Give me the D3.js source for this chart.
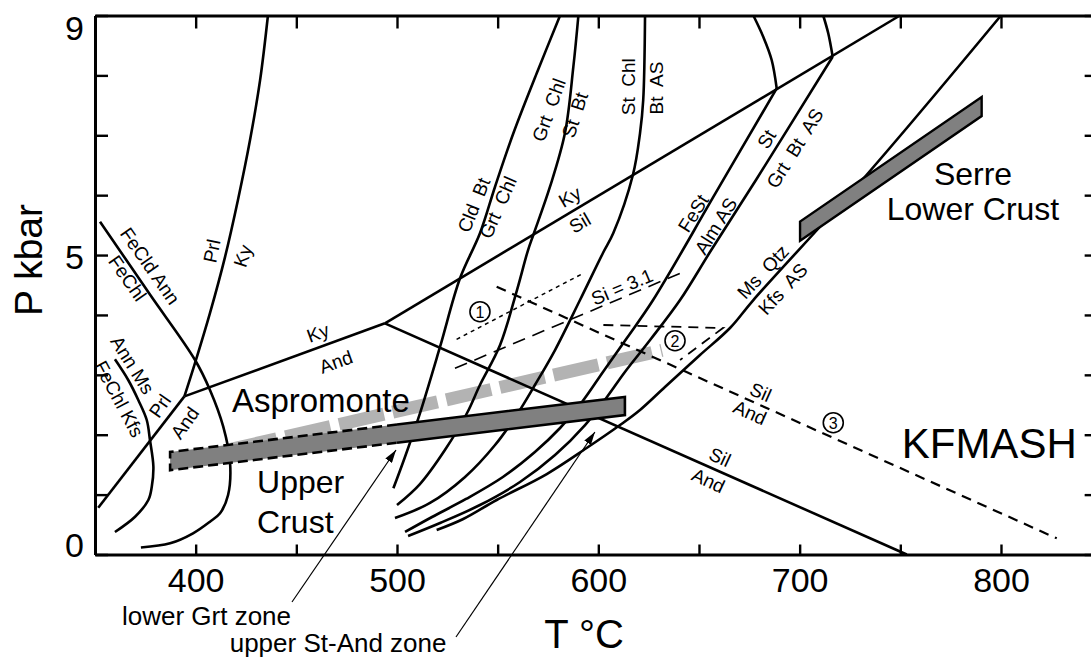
<!DOCTYPE html>
<html>
<head>
<meta charset="utf-8">
<script src="https://cdn.jsdelivr.net/npm/d3@7"></script>
<style>
  body { margin: 0; background: #fff; }
  svg { display: block; font-family: "Liberation Sans", Arial, Helvetica, sans-serif; }
  text { white-space: pre; }
</style>
</head>
<body>
<svg id="chart" width="1091" height="657"></svg>
<script>
// ---------- axes (T in °C, P in kbar) ----------
const xTicks = [400, 450, 500, 550, 600, 650, 700, 750, 800];
const xTickLabels = [400, 500, 600, 700, 800];
const yTicks = [0, 1, 2, 3, 4, 5, 6, 7, 8, 9];
const yTickLabels = [0, 5, 9];

// ---------- Al2SiO5 and pyrophyllite reactions ----------
const prlKy  = [[394.4,2.64],[399.7,3.2],[407.1,4.03],[414.6,4.97],[421,5.92],[427,6.92],[432,7.92],[435.9,9]];
const prlAnd = [[394.4,2.64],[351.6,0.78]];
const kyAnd  = [[394.4,2.64],[494,3.86]];
const kySil  = [[494,3.86],[749.8,9]];
const silAnd = [[494,3.86],[753.2,0]];

// ---------- KFMASH reactions ----------
const feCldAnn = [[352.5,5.557],[377.3,4.341],[399.7,3.248],[407.1,2.747],[413.7,2.134],[417.1,1.528],
                  [416.1,0.993],[412.1,0.688],[407.1,0.548],[398.7,0.354],[387.3,0.187],[372.8,0.117]];
const annMs = [[359.9,3.259],[366.5,2.914],[371.5,2.58],[375.7,2.246],[377.3,1.912],[379.0,1.466],
               [378.2,1.132],[376.5,0.91],[369.9,0.631],[359.9,0.376]];
const cldBt = [[581.0,9.0],[569.4,8.035],[557.8,7.033],[548.7,6.141],[541.2,5.363],[531.3,4.612],
               [521.4,3.47],[511.4,2.358],[504.0,1.633],[498.2,1.105]];
const grtChl = [[590.1,9.0],[587.6,8.145],[583.4,7.033],[576.0,6.141],[567.7,5.335],[565.1,5.084],
                [559.6,4.416],[551.2,3.498],[541.2,2.83],[534.8,2.363],[523.8,1.745],[511.4,1.177],[500.0,0.826]];
const stChl = [[623.2,9.0],[622.3,7.589],[620.7,7.033],[617.2,6.341],[607.4,5.363],[602.3,5.034],
               [590.9,4.249],[578.5,3.414],[568.5,2.83],[560.1,2.363],[548.7,1.828],[533.8,1.294],[516.4,0.86],[499.0,0.609]];
const feStUpper = [[677.0,9.0],[681.9,8.646],[686.1,8.257],[688.6,7.784]];
const feSt = [[688.6,7.784],[658.0,6.02],[627.2,4.249],[614.2,3.615],[602.3,3.047],[591.9,2.546],
              [581.0,2.112],[568.5,1.711],[552.6,1.294],[534.3,0.927],[517.4,0.626],[504.0,0.376]];
const stGrtUpper = [[711.7,9.0],[714.2,8.703],[716.4,8.312]];
const stGrt = [[716.4,8.312],[678.3,6.253],[656.1,5.084],[640.6,4.249],[625.7,3.581],[613.2,3.047],
               [604.3,2.63],[593.4,2.162],[578.5,1.661],[561.1,1.21],[541.2,0.826],[521.4,0.526],[505.5,0.309]];
const msQtz = [[800.0,9.0],[733.3,6.341],[677.0,4.249],[665.4,3.782],[650.5,3.331],[633.1,2.797],
               [620.7,2.413],[610.8,2.162],[594.2,1.778],[574.4,1.344],[549.5,0.91],[532.9,0.593],[519.7,0.409]];

// ---------- dashed boundaries and isopleths ----------
const silAndAlt  = [[549.5,4.471],[827.7,0.27]];
const si31       = [[528.8,3.109],[640.6,4.695]];
const isoDotted  = [[529.6,3.593],[592.5,4.695]];
const isoDashed  = [[602.5,3.832],[661.9,3.782],[640.6,3.248]];

// ---------- P-T fields ----------
const asproT = [387.3, 613.2], asproP = [1.56, 2.48], asproHalf = 0.152;
const serreT = [700.2, 790.4], serreP = [5.40, 7.48], serreHalf = 0.16;
const trendT = [418.0, 631.6], trendP = [1.76, 3.41];

// numbered sites
const sites = [
  { n: "1", t: 541.2, p: 4.054 },
  { n: "2", t: 638.1, p: 3.57 },
  { n: "3", t: 716.7, p: 2.201 }
];

// reaction labels
const curveLabels = [
  { text: "FeCld Ann", t: 377.3, p: 4.817, rot: 55 },
  { text: "FeChl", t: 366.1, p: 4.612, rot: 55 },
  { text: "Ann Ms", t: 368.6, p: 3.164, rot: 58 },
  { text: "FeChl Kfs", t: 361.9, p: 2.596, rot: 62 },
  { text: "Prl", t: 382.3, p: 2.48, rot: -55 },
  { text: "And", t: 394.7, p: 2.196, rot: -55 },
  { text: "Prl", t: 408.1, p: 5.068, rot: -78 },
  { text: "Ky", t: 423.5, p: 4.984, rot: -72 },
  { text: "Ky", t: 460.8, p: 3.698, rot: -20 },
  { text: "And", t: 469.7, p: 3.214, rot: -20 },
  { text: "Cld  Bt", t: 538.2, p: 5.836, rot: -68 },
  { text: "Grt  Chl", t: 550.2, p: 5.794, rot: -66 },
  { text: "Grt  Chl", t: 575.5, p: 7.422, rot: -70 },
  { text: "St  Bt", t: 588.4, p: 7.339, rot: -72 },
  { text: "St  Chl", t: 615.2, p: 7.811, rot: -90 },
  { text: "Bt  AS", t: 629.1, p: 7.789, rot: -90 },
  { text: "Ky", t: 585.9, p: 5.969, rot: -30 },
  { text: "Sil", t: 590.9, p: 5.535, rot: -30 },
  { text: "FeSt", t: 647.2, p: 5.697, rot: -58 },
  { text: "Alm AS", t: 658.4, p: 5.485, rot: -58 },
  { text: "St", t: 683.6, p: 6.933, rot: -58 },
  { text: "Grt  Bt  AS", t: 697.7, p: 6.782, rot: -58 },
  { text: "Ms  Qtz", t: 681.8, p: 4.717, rot: -47 },
  { text: "Kfs  AS", t: 691.7, p: 4.433, rot: -47 },
  { text: "Si = 3.1", t: 611.8, p: 4.467, rot: -23 },
  { text: "Sil", t: 680.6, p: 2.708, rot: 24 },
  { text: "And", t: 675.3, p: 2.368, rot: 24 },
  { text: "Sil", t: 660.4, p: 1.623, rot: 25 },
  { text: "And", t: 654.6, p: 1.232, rot: 25 }
];

// ---------- drawing ----------
const svg = d3.select("#chart");
const x = d3.scaleLinear().domain([350, 850]).range([95, 95 + 500 * 2.0133]);
const y = d3.scaleLinear().domain([0, 9]).range([554.5, 15.5]);

const defs = svg.append("defs");
defs.append("marker")
  .attr("id", "arrowHead")
  .attr("viewBox", "0 0 13 8")
  .attr("refX", 13).attr("refY", 4)
  .attr("markerWidth", 13).attr("markerHeight", 8)
  .attr("markerUnits", "userSpaceOnUse")
  .attr("orient", "auto")
  .append("path").attr("d", "M0,0L13,4L0,8Z").attr("fill", "#000");

const smooth = d3.line().x(d => x(d[0])).y(d => y(d[1])).curve(d3.curveCatmullRom.alpha(0.5));
const straight = d3.line().x(d => x(d[0])).y(d => y(d[1]));

// trend band of the Aspromonte path (under everything else)
svg.append("path")
  .attr("d", straight([[trendT[0], trendP[0]], [trendT[1], trendP[1]]]))
  .attr("fill", "none").attr("stroke", "#b3b3b3")
  .attr("stroke-width", 13).attr("stroke-dasharray", "46,9");

// reaction curves
const gCurves = svg.append("g").attr("fill", "none").attr("stroke", "#000")
  .attr("stroke-width", 2.6).attr("stroke-linejoin", "round");
[prlKy, feCldAnn, annMs, cldBt, grtChl, stChl, feStUpper, feSt, stGrtUpper, stGrt, msQtz]
  .forEach(c => gCurves.append("path").attr("d", smooth(c)));
[prlAnd, kyAnd, kySil, silAnd]
  .forEach(c => gCurves.append("path").attr("d", straight(c)));

// dashed boundaries
svg.append("path").attr("d", straight(silAndAlt)).attr("fill", "none")
  .attr("stroke", "#000").attr("stroke-width", 2.2).attr("stroke-dasharray", "10,7");
svg.append("path").attr("d", straight(si31)).attr("fill", "none")
  .attr("stroke", "#000").attr("stroke-width", 1.6).attr("stroke-dasharray", "13,8");
svg.append("path").attr("d", straight(isoDotted)).attr("fill", "none")
  .attr("stroke", "#000").attr("stroke-width", 1.5).attr("stroke-dasharray", "4,4");
svg.append("path").attr("d", straight(isoDashed)).attr("fill", "none")
  .attr("stroke", "#000").attr("stroke-width", 1.8).attr("stroke-dasharray", "10,7");

// P-T field bars
function band(tr, pr, h) {
  return [[tr[0], pr[0] - h], [tr[1], pr[1] - h], [tr[1], pr[1] + h], [tr[0], pr[0] + h]];
}
const closed = d3.line().x(d => x(d[0])).y(d => y(d[1]));

// Aspromonte upper crust: dashed outline below 500 °C, solid above
svg.append("path").attr("d", closed(band(asproT, asproP, asproHalf)) + "Z")
  .attr("fill", "#808080").attr("stroke", "none");
const tSplit = 500;
const pSplit = asproP[0] + (tSplit - asproT[0]) / (asproT[1] - asproT[0]) * (asproP[1] - asproP[0]);
svg.append("path")
  .attr("d", straight([[tSplit, pSplit + asproHalf], [asproT[1], asproP[1] + asproHalf],
                       [asproT[1], asproP[1] - asproHalf], [tSplit, pSplit - asproHalf]]))
  .attr("fill", "none").attr("stroke", "#000").attr("stroke-width", 2.6);
svg.append("path")
  .attr("d", straight([[tSplit, pSplit + asproHalf], [asproT[0], asproP[0] + asproHalf],
                       [asproT[0], asproP[0] - asproHalf], [tSplit, pSplit - asproHalf]]))
  .attr("fill", "none").attr("stroke", "#000").attr("stroke-width", 2.6).attr("stroke-dasharray", "10,5");

// Serre lower crust
svg.append("path").attr("d", closed(band(serreT, serreP, serreHalf)) + "Z")
  .attr("fill", "#808080").attr("stroke", "#000").attr("stroke-width", 2.4);

// reaction labels
const gLab = svg.append("g").attr("font-size", 19).attr("fill", "#000");
curveLabels.forEach(l => {
  gLab.append("text")
    .attr("transform", `translate(${x(l.t)},${y(l.p)}) rotate(${l.rot})`)
    .attr("text-anchor", "middle").attr("dominant-baseline", "central")
    .text(l.text);
});

// numbered sites
sites.forEach(s => {
  svg.append("circle").attr("cx", x(s.t)).attr("cy", y(s.p)).attr("r", 10)
    .attr("fill", "#fff").attr("stroke", "#000").attr("stroke-width", 1.6);
  svg.append("text").attr("x", x(s.t)).attr("y", y(s.p) + 0.5)
    .attr("text-anchor", "middle").attr("dominant-baseline", "central")
    .attr("font-size", 16).text(s.n);
});

// region names
const big = [
  { text: "Aspromonte", t: 418.0, p: 2.38, anchor: "start", size: 33 },
  { text: "Upper", t: 430.5, p: 1.027, anchor: "start", size: 32 },
  { text: "Crust", t: 430.5, p: 0.359, anchor: "start", size: 32 },
  { text: "Serre", t: 786.1, p: 6.17, anchor: "middle", size: 32 },
  { text: "Lower Crust", t: 786.1, p: 5.586, anchor: "middle", size: 32 },
  { text: "KFMASH", t: 750.7, p: 1.606, anchor: "start", size: 42 }
];
big.forEach(b => svg.append("text").attr("x", x(b.t)).attr("y", y(b.p))
  .attr("text-anchor", b.anchor).attr("font-size", b.size).text(b.text));

// zone pointers
const pointers = [
  { text: "lower Grt zone", from: [447.85, -0.793], to: [499.5, 1.745], lt: 363.4, lp: -1.177 },
  { text: "upper St-And zone", from: [529.3, -1.378], to: [598.3, 2.045], lt: 416.9, lp: -1.628 }
];
pointers.forEach(a => {
  svg.append("line")
    .attr("x1", x(a.from[0])).attr("y1", y(a.from[1]))
    .attr("x2", x(a.to[0])).attr("y2", y(a.to[1]))
    .attr("stroke", "#000").attr("stroke-width", 1.2).attr("marker-end", "url(#arrowHead)");
  svg.append("text").attr("x", x(a.lt)).attr("y", y(a.lp))
    .attr("font-size", 26).text(a.text);
});

// frame and ticks
function styleAxis(g) {
  g.attr("font-family", null);
  g.select(".domain").attr("stroke-width", 3).attr("stroke", "#000");
  g.selectAll(".tick line").attr("stroke-width", 2.4).attr("stroke", "#000");
}
const gx = svg.append("g").attr("transform", `translate(0,${y(0)})`)
  .call(d3.axisBottom(x).tickValues(xTicks).tickSizeInner(-10).tickSizeOuter(0).tickPadding(13)
    .tickFormat(d => xTickLabels.includes(d) ? d : ""));
gx.attr("font-size", 34);
styleAxis(gx);

const gTop = svg.append("g").attr("transform", `translate(0,${y(9)})`)
  .call(d3.axisTop(x).tickValues(xTicks).tickSizeInner(-13).tickSizeOuter(0).tickFormat(""));
styleAxis(gTop);

const gy = svg.append("g").attr("transform", `translate(${x(350)},0)`)
  .call(d3.axisLeft(y).tickValues(yTicks).tickSizeInner(-13).tickSizeOuter(0).tickPadding(11)
    .tickFormat(d => yTickLabels.includes(d) ? d : ""));
gy.attr("font-size", 34);
styleAxis(gy);
// keep the end labels inside the frame height
gy.selectAll(".tick text").attr("dy", null)
  .attr("y", d => d === 9 ? 24 : d === 0 ? 2 : 13);

const gRight = svg.append("g").attr("transform", `translate(${x(850)},0)`)
  .call(d3.axisRight(y).tickValues(yTicks).tickSizeInner(-17).tickSizeOuter(0).tickFormat(""));
styleAxis(gRight);

// axis titles
svg.append("text").attr("x", 584).attr("y", 648).attr("text-anchor", "middle")
  .attr("font-size", 40).text("T °C");
svg.append("text").attr("transform", "translate(42,260) rotate(-90)")
  .attr("text-anchor", "middle").attr("font-size", 39).text("P kbar");
</script>
</body>
</html>
